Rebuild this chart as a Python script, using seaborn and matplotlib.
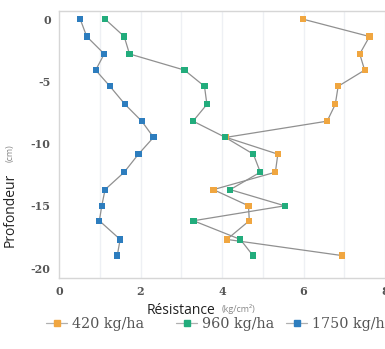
import numpy as np
import pandas as pd
import seaborn as sns
import matplotlib
matplotlib.use("Agg")
import matplotlib.pyplot as plt
from matplotlib.lines import Line2D

# ---- data ----
depth = [0, -1.4, -2.8, -4.1, -5.4, -6.85, -8.2, -9.5, -10.85, -12.3, -13.7, -15.0, -16.2, -17.7, -19.0]
res_420 = [5.98, 7.62, 7.38, 7.50, 6.85, 6.78, 6.58, 4.10, 5.37, 5.31, 3.79, 4.65, 4.67, 4.12, 6.95]
res_960 = [1.13, 1.60, 1.73, 3.08, 3.57, 3.63, 3.29, 4.08, 4.77, 4.94, 4.20, 5.54, 3.30, 4.45, 4.76]
res_1750 = [0.52, 0.68, 1.11, 0.90, 1.25, 1.62, 2.03, 2.32, 1.95, 1.60, 1.13, 1.05, 0.99, 1.50, 1.43]
series = ["420 kg/ha", "960 kg/ha", "1750 kg/ha"]
colors = ["#F0A640", "#22AC7C", "#2D7DBE"]
xticks = [0, 2, 4, 6, 8]
yticks = [0, -5, -10, -15, -20]

df = pd.concat([
    pd.DataFrame({"Profondeur": depth, "Résistance": vals, "Dose": name})
    for name, vals in zip(series, [res_420, res_960, res_1750])
])

sns.set_theme(style="white")
serif = ["DejaVu Serif"]
sans = ["Open Sans", "DejaVu Sans"]
plt.rcParams["font.family"] = serif

fig = plt.figure(figsize=(3.85, 3.49), dpi=100)
ax = fig.add_axes([59 / 385, 1 - 278 / 349, 326 / 385, (278 - 11) / 349])

# faint vertical grid
for gx in range(1, 9):
    ax.axvline(gx, color="#eef0f4", lw=1.0, zorder=0)

palette = dict(zip(series, colors))
sns.lineplot(data=df, x="Résistance", y="Profondeur", units="Dose", estimator=None,
             sort=False, color="#909090", lw=0.9, ax=ax, legend=False, zorder=2)
sns.scatterplot(data=df, x="Résistance", y="Profondeur", hue="Dose", palette=palette,
                marker="s", s=20, linewidth=0, ax=ax, legend=False, zorder=3)

ax.set_xlim(0, 8)
ax.set_ylim(-20.8, 0.65)
ax.set_xticks(xticks)
ax.set_yticks(yticks)
ax.set_xticklabels([str(t) for t in xticks], fontsize=8, color="#555555", fontweight="bold")
ax.set_yticklabels([str(t) for t in yticks], fontsize=8, color="#555555", fontweight="bold")
ax.tick_params(axis="both", length=0, pad=6)
ax.set_xlabel("")
ax.set_ylabel("")
for sp in ["top", "left", "bottom"]:
    ax.spines[sp].set_color("#d6d6d6")
    ax.spines[sp].set_linewidth(1.0)
ax.spines["right"].set_visible(False)

# axis titles
fig.text(147 / 385, 1 - 311 / 349, "Résistance", fontsize=10, color="#222222",
         ha="left", va="center", family=sans)
fig.text(222 / 385, 1 - 309 / 349, "(kg/cm²)", fontsize=6.5, color="#888888",
         ha="left", va="center", family=sans)
fig.text(10 / 385, 1 - 210 / 349, "Profondeur", fontsize=10, color="#222222",
         rotation=90, ha="center", va="center", family=sans)
fig.text(10 / 385, 1 - 153 / 349, "(cm)", fontsize=6.5, color="#888888",
         rotation=90, ha="center", va="center", family=sans)

# legend: one entry per position
starts = [46, 176, 286]
for name, c, x0 in zip(series, colors, starts):
    h = Line2D([0], [0], color="#b0b0b0", lw=0.9, marker="s", markersize=4,
               markerfacecolor=c, markeredgecolor=c)
    leg = fig.legend([h], [name], loc="center left", bbox_to_anchor=(x0 / 385, 1 - 324 / 349),
                     frameon=False, fontsize=10.3, handlelength=1.5, handletextpad=0.35,
                     labelcolor="#555555", borderaxespad=0, borderpad=0)

fig.savefig("out.png", dpi=100)
